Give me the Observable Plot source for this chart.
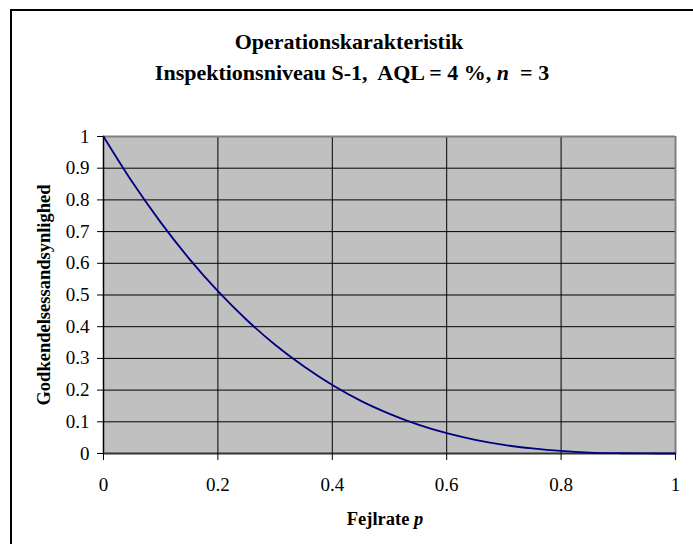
<!DOCTYPE html>
<html>
<head>
<meta charset="utf-8">
<script src="https://cdn.jsdelivr.net/npm/d3@7"></script>
<script src="https://cdn.jsdelivr.net/npm/@observablehq/plot@0.6"></script>
<style>
  html, body { margin: 0; padding: 0; background: #fff; overflow: hidden; }
  #wrap { position: relative; width: 693px; height: 544px; }
  #border { position: absolute; left: 10px; top: 9px; width: 720px; height: 600px; border: 2px solid #000; box-sizing: border-box; pointer-events: none; }
  #wrap svg { position: absolute; left: 0; top: 0; }
  #wrap svg text { font-family: "Liberation Serif", "Times New Roman", serif !important; fill: #000; }
</style>
</head>
<body>
<div id="wrap">
  <div id="border"></div>
</div>
<script>
// Fault rate p (x) and acceptance probability (y)
const faultRate = [0, 0.05, 0.1, 0.15, 0.2, 0.25, 0.3, 0.35, 0.4, 0.45, 0.5, 0.55, 0.6, 0.65, 0.7, 0.75, 0.8, 0.85, 0.9, 0.95, 1];
const acceptProb = [1, 0.857, 0.729, 0.614, 0.512, 0.422, 0.343, 0.275, 0.216, 0.166, 0.125, 0.091, 0.064, 0.043, 0.027, 0.016, 0.008, 0.003, 0.001, 0.0001, 0];
const xTicks = [0, 0.2, 0.4, 0.6, 0.8, 1];
const yTicks = [0, 0.1, 0.2, 0.3, 0.4, 0.5, 0.6, 0.7, 0.8, 0.9, 1];
const titleLine1 = "Operationskarakteristik";
const titleLine2 = ["Inspektionsniveau S-1,  AQL = 4 %, ", "n", "  = 3"];
const yTitle = "Godkendelsessandsynlighed";
const xTitle = ["Fejlrate ", "p"];

const data = faultRate.map((p, i) => ({p, y: acceptProb[i]}));
const fmt = d => String(+d.toFixed(1));

const chart = Plot.plot({
  width: 693,
  height: 544,
  marginLeft: 103,
  marginRight: 18,
  marginTop: 136,
  marginBottom: 91,
  style: {fontFamily: "'Liberation Serif', 'Times New Roman', serif", fontSize: "19px", color: "#000", background: "transparent"},
  x: {domain: [0, 1]},
  y: {domain: [0, 1]},
  marks: [
    Plot.frame({fill: "#c0c0c0", stroke: null}),
    Plot.gridY(yTicks, {stroke: "#000", strokeOpacity: 1, strokeWidth: 1}),
    Plot.gridX(xTicks, {stroke: "#000", strokeOpacity: 1, strokeWidth: 1}),
    Plot.ruleY([1], {stroke: "#808080", strokeWidth: 2}),
    Plot.ruleX([1], {stroke: "#808080", strokeWidth: 2}),
    Plot.ruleX([0], {stroke: "#000", strokeWidth: 1.5}),
    Plot.ruleY([0], {stroke: "#333", strokeWidth: 2}),
    Plot.axisY(yTicks, {tickSize: 6, tickPadding: 8, tickFormat: fmt, label: null, fontSize: 19}),
    Plot.axisX(xTicks, {tickSize: 7, tickPadding: 17, tickFormat: fmt, label: null, fontSize: 19}),
    Plot.line(data, {x: "p", y: "y", stroke: "#000080", strokeWidth: 1.8, curve: "monotone-x"})
  ]
});

const svg = d3.select(chart);
svg.append("text").attr("x", 349).attr("y", 48.5).attr("text-anchor", "middle")
  .attr("font-weight", "bold").attr("font-size", 22).text(titleLine1);
const t2 = svg.append("text").attr("x", 352).attr("y", 80).attr("text-anchor", "middle")
  .attr("font-weight", "bold").attr("font-size", 22).attr("xml:space", "preserve").style("white-space", "pre");
titleLine2.forEach((s, i) => t2.append("tspan").attr("font-style", i === 1 ? "italic" : null).text(s));
svg.append("text").attr("transform", "translate(50,295) rotate(-90)").attr("text-anchor", "middle")
  .attr("font-weight", "bold").attr("font-size", 18.5).text(yTitle);
const xt = svg.append("text").attr("x", 385).attr("y", 525).attr("text-anchor", "middle")
  .attr("font-weight", "bold").attr("font-size", 18.5);
xTitle.forEach((s, i) => xt.append("tspan").attr("font-style", i === 1 ? "italic" : null).text(s));

document.getElementById("wrap").insertBefore(chart, document.getElementById("border"));
</script>
</body>
</html>
